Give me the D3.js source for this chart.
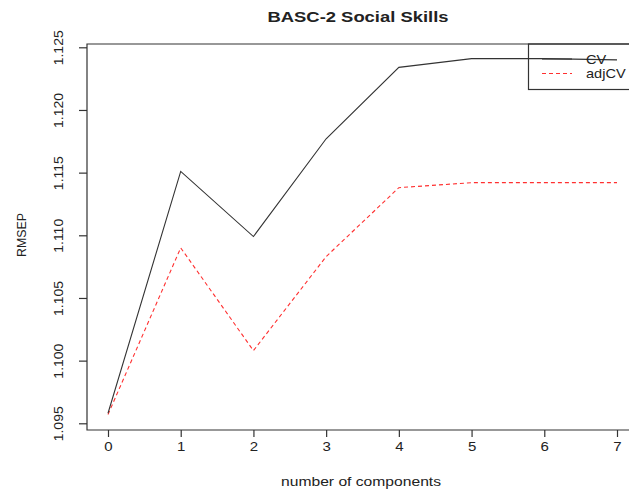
<!DOCTYPE html>
<meta charset="utf-8">
<style>
body { margin: 0; background: #fff; }
text { font-family: "Liberation Sans", Arial, sans-serif; fill: #222; }
.axis path { display: none; }
.axis line { stroke: #333; stroke-width: 1.2; }
.axis text { font-size: 12.5px; fill: #222; }
.cv { fill: none; stroke: #333; stroke-width: 1.1; }
.adjcv { fill: none; stroke: #ff3030; stroke-width: 1.1; stroke-dasharray: 4,3; }
</style>
<svg width="629" height="490"></svg>
<script src="https://cdn.jsdelivr.net/npm/d3@7"></script>
<script>

// number of components and RMSEP
var comps = [0, 1, 2, 3, 4, 5, 6, 7];
var cv    = [1.0958, 1.1151, 1.1099, 1.1177, 1.1234, 1.1241, 1.1241, 1.1240];
var adjcv = [1.0957, 1.1090, 1.1008, 1.1083, 1.1138, 1.1142, 1.1142, 1.1142];
var yTicks = [1.095, 1.100, 1.105, 1.110, 1.115, 1.120, 1.125];
var seriesNames = ["CV", "adjCV"];

var svg = d3.select("svg");

var x = d3.scaleLinear().domain([0, 7]).range([108, 617]);
var y = d3.scaleLinear().domain([1.095, 1.125]).range([423.3, 47.3]);

var box = {left: 87, top: 44, right: 645, bottom: 430};

// the original is stretched sideways, so widen text a bit
function stretch(sel, k) {
  sel.each(function() {
    var w = this.getComputedTextLength();
    d3.select(this).attr("textLength", w * k).attr("lengthAdjust", "spacingAndGlyphs");
  });
}

// plot box
svg.append("path")
    .attr("d", "M" + box.right + "," + box.top + "H" + box.left + "V" + box.bottom + "H" + box.right)
    .attr("fill", "none")
    .attr("stroke", "#333")
    .attr("stroke-width", 1.2);

// y axis
var yAxis = svg.append("g")
    .attr("class", "axis")
    .attr("transform", "translate(" + box.left + ",0)")
    .call(d3.axisLeft(y).tickValues(yTicks).tickSize(8).tickFormat(d3.format(".3f")));
yAxis.selectAll("text")
    .attr("x", null).attr("dy", null)
    .attr("text-anchor", "middle")
    .attr("transform", "translate(-24,0) rotate(-90)")
    .call(stretch, 1.12);

// x axis
var xAxis = svg.append("g")
    .attr("class", "axis")
    .attr("transform", "translate(0," + box.bottom + ")")
    .call(d3.axisBottom(x).tickValues(comps).tickSize(7).tickFormat(d3.format("d")));
xAxis.selectAll("text").attr("y", 21).attr("dy", null).call(stretch, 1.2);

// lines
var line = function(vals) {
  return d3.line()
      .x(function(d, i) { return x(comps[i]); })
      .y(function(d) { return y(d); })(vals);
};

svg.append("path").attr("class", "adjcv").attr("d", line(adjcv));
svg.append("path").attr("class", "cv").attr("d", line(cv));

// legend
var leg = svg.append("g");
leg.append("rect")
    .attr("x", 528.5).attr("y", box.top)
    .attr("width", 140).attr("height", 45.5)
    .attr("fill", "none").attr("stroke", "#333").attr("stroke-width", 1.2);
seriesNames.forEach(function(n, i) {
  var ly = 59 + i * 14.5;
  leg.append("line")
      .attr("x1", 542).attr("x2", 572).attr("y1", ly).attr("y2", ly)
      .attr("class", i === 0 ? "cv" : "adjcv");
  leg.append("text")
      .attr("x", 586).attr("y", ly + 4.5)
      .attr("font-size", 13)
      .text(n)
      .call(stretch, 1.12);
});

// titles
svg.append("text")
    .attr("x", 358).attr("y", 22)
    .attr("text-anchor", "middle")
    .attr("font-size", 15).attr("font-weight", "bold")
    .attr("textLength", 181).attr("lengthAdjust", "spacingAndGlyphs")
    .text("BASC-2 Social Skills");

svg.append("text")
    .attr("x", 361).attr("y", 486)
    .attr("text-anchor", "middle")
    .attr("font-size", 13)
    .attr("textLength", 160).attr("lengthAdjust", "spacingAndGlyphs")
    .text("number of components");

svg.append("text")
    .attr("transform", "translate(26,235) rotate(-90)")
    .attr("text-anchor", "middle")
    .attr("font-size", 13)
    .attr("textLength", 44).attr("lengthAdjust", "spacingAndGlyphs")
    .text("RMSEP");

</script>
